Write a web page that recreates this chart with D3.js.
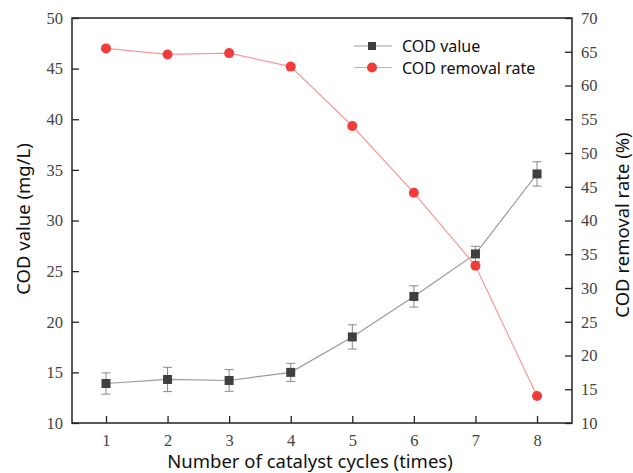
<!DOCTYPE html>
<html lang="en">
<head>
  <meta charset="UTF-8">
  <script src="https://cdn.jsdelivr.net/npm/d3@7"></script>
  <title>COD value and removal rate</title>
  <style>
    body { margin: 0; background: #fff; }
    .tick text { font-family: "Liberation Serif", "DejaVu Serif", serif; }
  </style>
</head>
<body>
  <svg width="633" height="473" id="chart"></svg>
  <script>
    // data
    let cycles = [1, 2, 3, 4, 5, 6, 7, 8];
    let codValue = [13.9, 14.3, 14.2, 15.0, 18.5, 22.5, 26.7, 34.6];
    let codError = [1.05, 1.2, 1.07, 0.89, 1.2, 1.05, 0.75, 1.2];
    let removalRate = [65.5, 64.6, 64.8, 62.8, 54.0, 44.1, 33.3, 14.0];
    let leftTicks = [10, 15, 20, 25, 30, 35, 40, 45, 50];
    let rightTicks = [10, 15, 20, 25, 30, 35, 40, 45, 50, 55, 60, 65, 70];

    let svg = d3.select("#chart");
    let mLeft = 72, mRight = 572, mTop = 18, mBottom = 423;

    /* SCALES */
    let x = d3.scaleLinear().domain([0.448, 8.568]).range([mLeft, mRight]);
    let yL = d3.scaleLinear().domain([10, 50]).range([mBottom, mTop]);
    let yR = d3.scaleLinear().domain([10, 70]).range([mBottom, mTop]);

    /* AXES */
    let axisColor = "#222", labelColor = "#444", tickFont = 16.5;
    svg.append("g")
      .attr("transform", `translate(0,${mBottom})`)
      .call(d3.axisBottom(x).tickValues(cycles).tickSizeInner(-7).tickSizeOuter(0).tickPadding(11))
      .call(g => g.selectAll("text").attr("font-size", tickFont).attr("fill", labelColor));
    svg.append("g")
      .attr("transform", `translate(${mLeft},0)`)
      .call(d3.axisLeft(yL).tickValues(leftTicks).tickSizeInner(-7).tickSizeOuter(0).tickPadding(9))
      .call(g => g.selectAll("text").attr("font-size", tickFont).attr("fill", labelColor));
    svg.append("g")
      .attr("transform", `translate(${mRight},0)`)
      .call(d3.axisRight(yR).tickValues(rightTicks).tickSizeInner(-7).tickSizeOuter(0).tickPadding(9))
      .call(g => g.selectAll("text").attr("font-size", tickFont).attr("fill", labelColor));
    svg.selectAll(".domain").remove();
    svg.selectAll(".tick line").attr("stroke", axisColor).attr("stroke-width", 1.3);

    // frame
    svg.append("rect")
      .attr("x", mLeft).attr("y", mTop)
      .attr("width", mRight - mLeft).attr("height", mBottom - mTop)
      .attr("fill", "none").attr("stroke", axisColor).attr("stroke-width", 1.5);

    /* AXIS TITLES */
    let titleFont = "'Noto Sans', 'Open Sans', sans-serif";
    svg.append("text").text("Number of catalyst cycles (times)")
      .attr("x", 310).attr("y", 468)
      .attr("text-anchor", "middle").attr("font-family", titleFont).attr("font-size", 18.5).attr("fill", "#111");
    svg.append("text").text("COD value (mg/L)")
      .attr("transform", `translate(30,219) rotate(-90)`)
      .attr("text-anchor", "middle").attr("font-family", titleFont).attr("font-size", 18.5).attr("fill", "#111");
    svg.append("text").text("COD removal rate (%)")
      .attr("transform", `translate(629,225) rotate(-90)`)
      .attr("text-anchor", "middle").attr("font-family", titleFont).attr("font-size", 18.5).attr("fill", "#111");

    /* COD VALUE SERIES */
    let grey = "#9a9a9a", dark = "#404040", red = "#f23c3c", pink = "#f49a9a";
    let codData = cycles.map((c, i) => ({ c: c, v: codValue[i], e: codError[i] }));
    svg.append("path").datum(codData)
      .attr("fill", "none").attr("stroke", grey).attr("stroke-width", 1.2)
      .attr("d", d3.line().x(d => x(d.c)).y(d => yL(d.v)));
    let err = svg.selectAll(".err").data(codData).enter().append("g")
      .attr("stroke", "#888").attr("stroke-width", 1);
    err.append("line").attr("x1", d => x(d.c)).attr("x2", d => x(d.c))
      .attr("y1", d => yL(d.v - d.e)).attr("y2", d => yL(d.v + d.e));
    err.append("line").attr("x1", d => x(d.c) - 4.5).attr("x2", d => x(d.c) + 4.5)
      .attr("y1", d => yL(d.v - d.e)).attr("y2", d => yL(d.v - d.e));
    err.append("line").attr("x1", d => x(d.c) - 4.5).attr("x2", d => x(d.c) + 4.5)
      .attr("y1", d => yL(d.v + d.e)).attr("y2", d => yL(d.v + d.e));
    svg.selectAll(".sq").data(codData).enter().append("rect")
      .attr("x", d => x(d.c) - 4.5).attr("y", d => yL(d.v) - 4.5)
      .attr("width", 9).attr("height", 9).attr("fill", dark);

    /* REMOVAL RATE SERIES */
    let rateData = cycles.map((c, i) => ({ c: c, v: removalRate[i] }));
    svg.append("path").datum(rateData)
      .attr("fill", "none").attr("stroke", pink).attr("stroke-width", 1.2)
      .attr("d", d3.line().x(d => x(d.c)).y(d => yR(d.v)));
    svg.selectAll(".dot").data(rateData).enter().append("circle")
      .attr("cx", d => x(d.c)).attr("cy", d => yR(d.v)).attr("r", 5).attr("fill", red);

    /* LEGEND */
    let legend = svg.append("g").attr("font-family", titleFont).attr("font-size", 16).attr("fill", "#111");
    legend.append("line").attr("x1", 354).attr("x2", 392).attr("y1", 46).attr("y2", 46)
      .attr("stroke", grey).attr("stroke-width", 1.2);
    legend.append("rect").attr("x", 368).attr("y", 42).attr("width", 8).attr("height", 8).attr("fill", dark);
    legend.append("text").text("COD value").attr("x", 402).attr("y", 52);
    legend.append("line").attr("x1", 354).attr("x2", 392).attr("y1", 67.5).attr("y2", 67.5)
      .attr("stroke", pink).attr("stroke-width", 1.2);
    legend.append("circle").attr("cx", 372).attr("cy", 67.5).attr("r", 5).attr("fill", red);
    legend.append("text").text("COD removal rate").attr("x", 402).attr("y", 73.5);
  </script>
</body>
</html>
